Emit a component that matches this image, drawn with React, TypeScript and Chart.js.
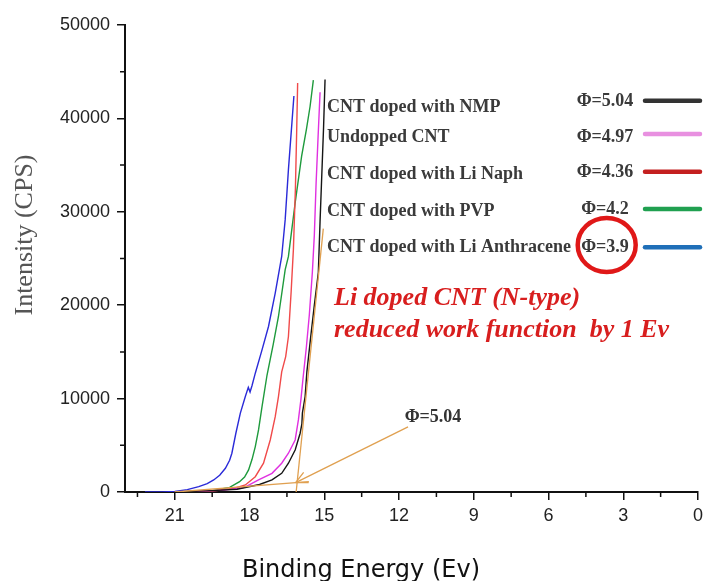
import React, { useEffect, useRef } from "react";
import { Chart, registerables } from "chart.js";

Chart.register(...registerables);

// ---- labels ----
const seriesNames = [
  "CNT doped with NMP",
  "Undopped CNT",
  "CNT doped with Li Naph",
  "CNT doped with PVP",
  "CNT doped with Li Anthracene",
];
const workFunctions = ["Φ=5.04", "Φ=4.97", "Φ=4.36", "Φ=4.2", "Φ=3.9"];
const curveColors = ["#151515", "#e030e0", "#f04a4a", "#1e9a3c", "#2a2ad8"];
const legendColors = ["#333333", "#e890e0", "#c42020", "#20a050", "#1f6fb8"];

const xTicks = [21, 18, 15, 12, 9, 6, 3, 0];
const xMinorTicks = [22.5, 19.5, 16.5, 13.5, 10.5, 7.5, 4.5, 1.5];
const yTicks = [0, 10000, 20000, 30000, 40000, 50000];
const yMinorTicks = [5000, 15000, 25000, 35000, 45000];

// ---- series (Binding Energy eV, Intensity CPS) ----
const nmpX = [21.0, 19.5, 18.5, 17.6, 17.1, 16.71, 16.44, 16.17, 15.97, 15.9, 15.88, 15.77, 15.7, 15.55, 15.4, 15.24, 15.17, 15.1, 15.03, 14.97];
const nmpY = [0, 150, 300, 800, 1290, 2000, 3080, 4500, 6290, 7300, 8440, 10220, 12860, 16500, 20000, 23500, 29000, 34000, 39000, 44160];

const undopedX = [21.0, 19.0, 18.2, 17.64, 17.1, 16.71, 16.44, 16.17, 16.04, 15.94, 15.86, 15.72, 15.6, 15.48, 15.4, 15.33, 15.25, 15.17];
const undopedY = [0, 200, 500, 1290, 2000, 3080, 4150, 5570, 7720, 9860, 12000, 15500, 19000, 23500, 27500, 33000, 38000, 42800];

const liNaphX = [21.0, 19.5, 18.6, 18.17, 17.77, 17.44, 17.17, 16.97, 16.84, 16.71, 16.55, 16.44, 16.33, 16.24, 16.16, 16.11, 16.07];
const liNaphY = [0, 100, 400, 750, 1640, 3080, 5570, 8070, 10220, 12860, 14500, 16650, 21500, 26000, 32500, 38500, 43800];

const pvpX = [21.0, 19.5, 18.8, 18.4, 18.2, 18.04, 17.9, 17.77, 17.64, 17.5, 17.3, 17.05, 16.84, 16.57, 16.44, 16.17, 15.91, 15.72, 15.57, 15.44];
const pvpY = [0, 150, 500, 1100, 1600, 2360, 3500, 4860, 6650, 9140, 12500, 15800, 18790, 23800, 25220, 30950, 35950, 38800, 41300, 44100];

const liAnthX = [22.2, 21.5, 21.0, 20.5, 20.04, 19.7, 19.44, 19.2, 18.97, 18.8, 18.71, 18.55, 18.37, 18.17, 18.05, 17.98, 17.9, 17.77, 17.5, 17.24, 16.97, 16.71, 16.57, 16.44, 16.3, 16.22];
const liAnthY = [0, 0, 50, 250, 570, 900, 1290, 1800, 2540, 3400, 4150, 6290, 8440, 10220, 11200, 10700, 11400, 12720, 15220, 17720, 21300, 25220, 29160, 34520, 39520, 42400];

// ---- annotation lines ----
const tangentX = [15.04, 16.13];
const tangentY = [28200, 0];
const baselineTanX = [21.0, 15.62];
const baselineTanY = [0, 1100];
const arrowX = [11.64, 16.15];
const arrowY = [6970, 1000];

const toPts = (xs: number[], ys: number[]) => xs.map((x, i) => ({ x, y: ys[i] }));

export default function App() {
  const ref = useRef<HTMLCanvasElement | null>(null);

  useEffect(() => {
    const canvas = ref.current;
    if (!canvas) return;

    const orange = "#e0a050";
    const seriesX = [nmpX, undopedX, liNaphX, pvpX, liAnthX];
    const seriesY = [nmpY, undopedY, liNaphY, pvpY, liAnthY];

    const datasets: any[] = [
      { label: "tangent", data: toPts(tangentX, tangentY), borderColor: orange, borderWidth: 1.3 },
      { label: "baseline", data: toPts(baselineTanX, baselineTanY), borderColor: orange, borderWidth: 1.3 },
      { label: "arrow", data: toPts(arrowX, arrowY), borderColor: orange, borderWidth: 1.3 },
      ...seriesNames.map((n, i) => ({
        label: n,
        data: toPts(seriesX[i], seriesY[i]),
        borderColor: curveColors[i],
        borderWidth: 1.4,
      })),
    ];

    const overlay = {
      id: "overlay",
      afterDraw(chart: any) {
        const ctx = chart.ctx as CanvasRenderingContext2D;
        const xs = chart.scales.x;
        const ys = chart.scales.y;
        const area = chart.chartArea;
        ctx.save();

        // minor ticks
        ctx.strokeStyle = "#111";
        ctx.lineWidth = 1.5;
        ctx.beginPath();
        xMinorTicks.forEach((v) => {
          const px = xs.getPixelForValue(v);
          ctx.moveTo(px, area.bottom);
          ctx.lineTo(px, area.bottom + 5);
        });
        yMinorTicks.forEach((v) => {
          const py = ys.getPixelForValue(v);
          ctx.moveTo(area.left, py);
          ctx.lineTo(area.left - 5, py);
        });
        ctx.stroke();

        // arrowhead
        const ax0 = xs.getPixelForValue(arrowX[0]);
        const ay0 = ys.getPixelForValue(arrowY[0]);
        const ax1 = xs.getPixelForValue(arrowX[1]);
        const ay1 = ys.getPixelForValue(arrowY[1]);
        const ang = Math.atan2(ay1 - ay0, ax1 - ax0);
        ctx.strokeStyle = "#e0a050";
        ctx.lineWidth = 1.3;
        ctx.beginPath();
        [0.45, -0.45].forEach((d) => {
          ctx.moveTo(ax1, ay1);
          ctx.lineTo(ax1 - 13 * Math.cos(ang + d), ay1 - 13 * Math.sin(ang + d));
        });
        ctx.stroke();

        // annotation label near arrow
        ctx.fillStyle = "#333";
        ctx.font = 'bold 18px "Liberation Serif"';
        ctx.textAlign = "center";
        ctx.textBaseline = "alphabetic";
        ctx.fillText("Φ=5.04", ax0 + 25, ay0 - 5);

        // legend
        const textBase = [111.7, 141.7, 179.3, 215.7, 252.3];
        const phiBase = [105.7, 141.7, 177.3, 214.3, 251.7];
        const lineY = [100.7, 134, 171.7, 209, 247.3];
        seriesNames.forEach((n, i) => {
          ctx.fillStyle = "#3a3a3a";
          ctx.font = 'bold 18px "Liberation Serif"';
          ctx.textAlign = "left";
          ctx.fillText(n, 327, textBase[i]);
          ctx.textAlign = "center";
          ctx.fillText(workFunctions[i], 605, phiBase[i]);
          ctx.strokeStyle = legendColors[i];
          ctx.lineWidth = 4.5;
          ctx.lineCap = "round";
          ctx.beginPath();
          ctx.moveTo(645, lineY[i]);
          ctx.lineTo(700, lineY[i]);
          ctx.stroke();
        });
        ctx.lineCap = "butt";

        // red circle
        ctx.strokeStyle = "#e01818";
        ctx.lineWidth = 4.5;
        ctx.beginPath();
        ctx.ellipse(606.7, 245, 29, 27, 0, 0, Math.PI * 2);
        ctx.stroke();

        // red note
        ctx.fillStyle = "#d81e1e";
        ctx.font = 'italic bold 26px "Liberation Serif"';
        ctx.textAlign = "left";
        ctx.fillText("Li doped CNT (N-type)", 334, 305);
        ctx.fillText("reduced work function  by 1 Ev", 334, 336.7);

        // axis titles
        ctx.fillStyle = "#555";
        ctx.font = '26px "Liberation Serif"';
        ctx.textAlign = "center";
        ctx.save();
        ctx.translate(32, 235);
        ctx.rotate(-Math.PI / 2);
        ctx.fillText("Intensity (CPS)", 0, 0);
        ctx.restore();

        ctx.fillStyle = "#111";
        ctx.font = '24px "DejaVu Sans"';
        ctx.fillText("Binding Energy (Ev)", 361, 577);

        ctx.restore();
      },
    };

    const chart = new Chart(canvas, {
      type: "line",
      data: { datasets },
      options: {
        responsive: false,
        animation: false,
        parsing: true,
        layout: { padding: { top: 25, right: 7, bottom: 0, left: 0 } },
        elements: { point: { radius: 0 }, line: { tension: 0 } },
        plugins: { legend: { display: false }, tooltip: { enabled: false }, title: { display: false } },
        scales: {
          x: {
            type: "linear",
            min: 0,
            max: 23,
            reverse: true,
            afterBuildTicks: (s: any) => {
              s.ticks = xTicks.map((v) => ({ value: v }));
            },
            afterFit: (s: any) => {
              s.height = 89;
            },
            ticks: {
              font: { family: "Liberation Sans", size: 18 },
              color: "#222",
              padding: 5,
              maxRotation: 0,
              autoSkip: false,
              callback: (v: any) => String(v),
            },
            grid: { drawOnChartArea: false, drawTicks: true, tickLength: 8, color: "#111", lineWidth: 1.5 },
            border: { display: true, color: "#111", width: 2 },
          },
          y: {
            type: "linear",
            min: 0,
            max: 50000,
            afterBuildTicks: (s: any) => {
              s.ticks = yTicks.map((v) => ({ value: v }));
            },
            afterFit: (s: any) => {
              s.width = 125;
            },
            ticks: {
              font: { family: "Liberation Sans", size: 18 },
              color: "#222",
              padding: 7,
              autoSkip: false,
              callback: (v: any) => String(v),
            },
            grid: { drawOnChartArea: false, drawTicks: true, tickLength: 8, color: "#111", lineWidth: 1.5 },
            border: { display: true, color: "#111", width: 2 },
          },
        },
      },
      plugins: [overlay],
    } as any);

    return () => chart.destroy();
  }, []);

  return (
    <div style={{ position: "absolute", left: 0, top: 0, width: 708, height: 581, background: "#fff" }}>
      <canvas ref={ref} width={708} height={581} />
    </div>
  );
}
